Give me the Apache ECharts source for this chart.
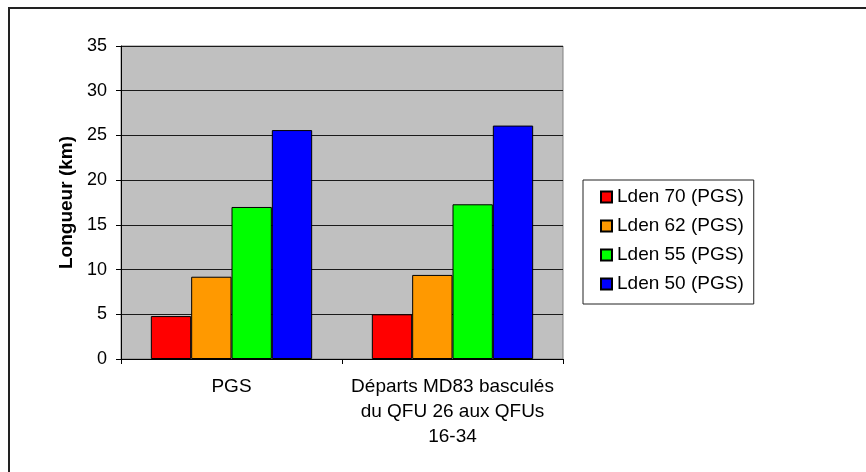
<!DOCTYPE html>
<html>
<head>
<meta charset="utf-8">
<script src="https://cdn.jsdelivr.net/npm/echarts@6/dist/echarts.min.js"></script>
<style>
html,body{margin:0;padding:0;background:#fff;}
#c{width:866px;height:472px;}
</style>
</head>
<body>
<div id="c"></div>
<script>
const categories = ['PGS', 'Départs MD83 basculés\ndu QFU 26 aux QFUs\n16-34'];
const seriesNames = ['Lden 70 (PGS)', 'Lden 62 (PGS)', 'Lden 55 (PGS)', 'Lden 50 (PGS)'];
const lden70 = [4.8, 5.0];
const lden62 = [9.2, 9.4];
const lden55 = [17.0, 17.3];
const lden50 = [25.6, 26.1];
const colors = ['#FF0000', '#FF9900', '#00FF00', '#0000FF'];
const yTicks = {min: 0, max: 35, interval: 5};

const FONT = 'Liberation Sans, Arial, sans-serif';
const values = [lden70, lden62, lden55, lden50];

const chart = echarts.init(document.getElementById('c'), null, {renderer: 'canvas'});
chart.setOption({
  animation: false,
  backgroundColor: '#ffffff',
  textStyle: {fontFamily: FONT},
  graphic: [{
    type: 'rect',
    shape: {x: 9, y: 8, width: 1000, height: 1000},
    style: {fill: 'none', stroke: '#222', lineWidth: 2},
    z: 100
  }],
  grid: {
    left: 121, right: 303, top: 46, bottom: 113,
    show: true, backgroundColor: '#C0C0C0', borderColor: '#808080', borderWidth: 1
  },
  legend: {
    orient: 'vertical',
    left: 583, top: 180,
    padding: [7, 10, 10, 17],
    itemGap: 9,
    itemWidth: 11, itemHeight: 11,
    itemTextGap: 6,
    icon: 'rect',
    borderColor: '#222', borderWidth: 1,
    backgroundColor: '#fff',
    textStyle: {fontFamily: FONT, fontSize: 19, color: '#000', lineHeight: 20},
    data: seriesNames
  },
  xAxis: {
    type: 'category',
    data: categories,
    axisLine: {lineStyle: {color: '#000', width: 1}},
    axisTick: {show: true, length: 5, lineStyle: {color: '#000'}},
    axisLabel: {fontFamily: FONT, fontSize: 19, color: '#000', lineHeight: 25, margin: 15, interval: 0}
  },
  yAxis: {
    type: 'value',
    min: yTicks.min, max: yTicks.max, interval: yTicks.interval,
    name: 'Longueur (km)',
    nameLocation: 'middle',
    nameGap: 45,
    nameTextStyle: {fontFamily: FONT, fontSize: 19, fontWeight: 'bold', color: '#000'},
    axisLine: {show: true, lineStyle: {color: '#000', width: 1}},
    axisTick: {show: true, length: 5, lineStyle: {color: '#000'}},
    axisLabel: {fontFamily: FONT, fontSize: 18, color: '#000', margin: 14},
    splitLine: {show: true, lineStyle: {color: '#1a1a1a', width: 1}}
  },
  series: values.map((v, i) => ({
    name: seriesNames[i],
    type: 'bar',
    data: v,
    barGap: '0%',
    barCategoryGap: '27%',
    itemStyle: {color: colors[i], borderColor: '#000', borderWidth: 1}
  }))
});
</script>
</body>
</html>
